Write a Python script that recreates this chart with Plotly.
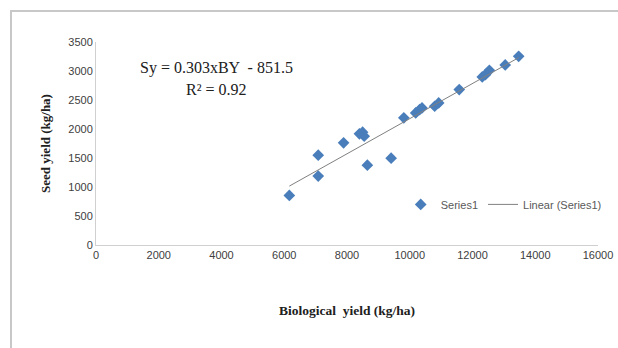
import plotly.graph_objects as go

bio_yield = [6162, 7083, 7083, 7891, 8396, 8497, 8548, 8649, 9407, 9811, 10189,
             10316, 10391, 10795, 10922, 11578, 12311, 12412, 12538, 13043, 13472]
seed_yield = [855, 1549, 1188, 1761, 1916, 1945, 1876, 1377, 1497, 2192, 2278,
              2335, 2364, 2392, 2450, 2679, 2897, 2937, 3012, 3104, 3253]
slope = 0.303
intercept = -851.5
x_ticks = [0, 2000, 4000, 6000, 8000, 10000, 12000, 14000, 16000]
y_ticks = [0, 500, 1000, 1500, 2000, 2500, 3000, 3500]

trend_x = [min(bio_yield), max(bio_yield)]
trend_y = [slope * v + intercept for v in trend_x]

fig = go.Figure()
fig.add_trace(go.Scatter(x=bio_yield, y=seed_yield, mode="markers", name="Series1",
                         marker=dict(symbol="diamond", size=9, color="#4a7ebb")))
fig.add_trace(go.Scatter(x=trend_x, y=trend_y, mode="lines", name="Linear (Series1)",
                         line=dict(color="#808080", width=1)))

W, H = 618, 348
L, R, T, B = 96, 20, 42, 103
pw = W - L - R
ph = H - T - B

def px_x(v):
    return (v - L) / pw

def px_y(v):
    return (H - B - v) / ph

fig.update_layout(
    width=W, height=H,
    margin=dict(l=L, r=R, t=T, b=B, autoexpand=False),
    paper_bgcolor="white", plot_bgcolor="white",
    font=dict(family="Liberation Sans", size=11, color="#404040"),
    showlegend=True,
    legend=dict(orientation="h", x=0.607, y=0.2, xanchor="left", yanchor="middle",
                font=dict(family="Liberation Sans", size=11, color="#595959"),
                bgcolor="rgba(0,0,0,0)", itemwidth=30, tracegroupgap=0),
    xaxis=dict(range=[0, 16000], tickvals=x_ticks, ticktext=[str(v) for v in x_ticks],
               showgrid=False, zeroline=False, showline=True, linecolor="#d0d0d0",
               linewidth=1, ticks="", ticklen=0, automargin=False,
               tickfont=dict(family="Liberation Sans", size=11, color="#404040"),
               title=dict(text="<b>Biological  yield (kg/ha)</b>", standoff=45,
                          font=dict(family="Liberation Serif", size=13.5, color="#202020"))),
    yaxis=dict(range=[0, 3500], tickvals=y_ticks, ticktext=[str(v) for v in y_ticks],
               showgrid=False, zeroline=False, showline=True, linecolor="#d0d0d0",
               linewidth=1, ticks="", ticklen=0, automargin=False,
               tickfont=dict(family="Liberation Sans", size=11, color="#404040"),
               title=dict(text="<b>Seed yield (kg/ha)</b>", standoff=14,
                          font=dict(family="Liberation Serif", size=13, color="#202020"))),
    annotations=[
        dict(x=px_x(216), y=px_y(68), xref="paper", yref="paper", xanchor="center",
             yanchor="middle", text="Sy = 0.303xBY  - 851.5", showarrow=False,
             font=dict(family="Liberation Serif", size=16, color="#202020")),
        dict(x=px_x(216), y=px_y(89), xref="paper", yref="paper", xanchor="center",
             yanchor="middle", text="R\u00b2 = 0.92", showarrow=False,
             font=dict(family="Liberation Serif", size=16, color="#202020")),
    ],
)

fig.add_shape(type="line", xref="paper", yref="paper",
              x0=px_x(10), x1=px_x(W), y0=px_y(11), y1=px_y(11),
              line=dict(color="#c8c8c8", width=2))
fig.add_shape(type="line", xref="paper", yref="paper",
              x0=px_x(11), x1=px_x(11), y0=px_y(10), y1=px_y(H),
              line=dict(color="#c8c8c8", width=2))

fig.write_html("out.html", config={"displayModeBar": False},
               post_script="document.body.style.margin='0';")
